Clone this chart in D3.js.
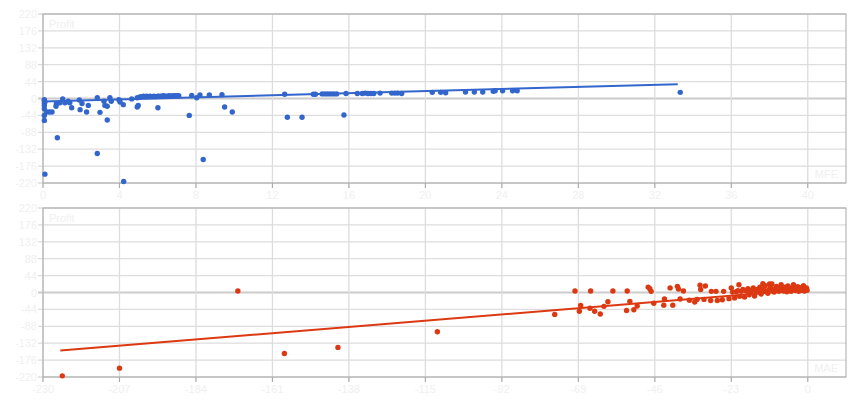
<!DOCTYPE html>
<html>
<head>
<meta charset="utf-8">
<script src="https://cdnjs.cloudflare.com/ajax/libs/d3/7.8.5/d3.min.js"></script>
<style>
  body { margin: 0; background: #fff; }
  svg { display: block; }
</style>
</head>
<body>
<div id="chart"></div>
<script>
// -----------------------------------------
// DATA
// -----------------------------------------
// top panel: MFE vs Profit
var mfe = [0.1,0.07,0.07,0.19,0.07,0.07,0.07,0.07,0.07,0.1,0.33,0.47,0.68,0.7,0.75,0.89,1.03,1.15,1.32,1.4,1.5,1.9,1.94,2.04,2.28,2.37,2.84,2.84,2.98,3.24,3.36,3.36,3.19,3.5,3.57,3.97,4.03,4.2,4.22,4.64,4.93,4.98,4.93,
  5.07,5.15,5.25,5.33,5.42,5.5,5.6,5.7,5.8,5.9,6.0,6.1,6.2,6.3,6.4,6.5,6.6,6.7,6.8,6.9,7.0,7.1,6.01,
  7.65,7.78,8.04,8.21,8.38,8.7,9.36,9.5,9.9,12.64,12.78,13.55,14.14,14.25,14.6,14.75,14.9,15.05,15.2,15.36,15.74,15.85,16.44,16.7,16.85,17.0,17.15,17.3,17.63,18.24,18.4,18.55,18.76,20.36,20.8,21.06,22.1,22.56,23.0,23.55,23.65,24.04,24.56,24.8,33.33];
var mfeProfit = [-197,-57,-44,-35,-27,-18,-12,-6,-3,-9,-35,-35,-20,-14,-102,-11,-1,-11,-7,-11,-24,-4,-29,-13,-35,-18,2,-143,-36,-18,-20,-56,-7,2,-7,-3,-9,-16,-216,-1,2,-18,-22,
  4,5,6,5,6,5,6,5,6,5,6,6,6,7,6,6,7,6,7,7,7,7,-24,
  -44,8,2,9,-159,9,10,-22,-35,11,-49,-49,11,11,12,12,12,12,12,12,-43,13,13,13,14,13,13,13,14,14,14,14,13,16,16,15,17,17,17,19,20,20,20,20,16];
var mfeTrendX = [0, 33.2];
var mfeTrendY = [-7.5, 37];

// bottom panel: MAE vs Profit
var mae = [-224.2,-207,-171.4,-157.4,-141.3,-111.4,-76.1,
  -70,-68.7,-68.3,-65.3,-65.5,-64.1,-62.4,-61.3,-60.1,-58.6,-54.5,-54.3,-53.5,-52.3,-51.3,-48,-47.5,-47.1,-46.3,-43.3,-43.1,-40.6,-41.4,-39.2,-38.9,-38.4,-37.4,-35.6,-34,-33.3,-32.4,-32.2,-31.2,-30.8,-29.2,-29,-27.2,-27.6,-25.7,-25.3,-23.7,-23,-22.6,
  -22,-21.5,-21,-20.5,-20,-19.5,-19,-18.5,-18,-17.6,-17.2,-16.8,-16.4,-16,-15.6,-15.2,-14.8,-14.4,-14,-13.6,-13.2,-12.8,-12.4,-12,-11.6,-11.2,-10.8,-10.5,-10.1,-9.8,-9.4,-9.1,-8.7,-8.4,-8,-7.7,-7.3,-7,-6.7,-6.3,-6,-5.7,-5.3,-5,-4.7,-4.3,-4,-3.7,-3.3,-3,-2.7,-2.3,-2,-1.7,-1.3,-1,-0.7,-0.4,-0.2,
  -13.5,-11.5,-20.7];
var maeProfit = [-217,-197,4,-159,-143,-102,-57,
  4,-49,-34,4,-41,-49,-56,-36,-24,4,-47,4,-23,-45,-35,14,10,3,-28,-33,-17,-33,12,16,9,-17,4,-20,-25,-18,19,8,-18,17,-21,3,-21,3,-19,3,-16,12,1,
  -14,2,5,-10,3,8,-12,4,10,-6,2,6,12,-9,4,8,1,14,-4,6,10,18,3,-2,8,13,22,5,1,10,16,6,3,12,20,8,4,14,9,2,17,11,6,3,13,20,8,5,11,15,3,9,6,13,18,4,9,12,6,
  23,22,20];
var maeTrendX = [-224.8, 0];
var maeTrendY = [-151, 8];

var yTicks = [220,176,132,88,44,0,-44,-88,-132,-176,-220];
var mfeTicks = [0,4,8,12,16,20,24,28,32,36,40];
var maeTicks = [-230,-207,-184,-161,-138,-115,-92,-69,-46,-23,0];

// -----------------------------------------
// FORMAT
// -----------------------------------------
var W = 860, H = 400;
var left = 43, right = 846;
var fontF = "Liberation Sans, Arial, sans-serif";
var textC = "#f0f0f0";
var gridC = "#dddddd";
var frameC = "#a8a8a8";

var svg = d3.select("#chart").append("svg")
  .attr("width", W)
  .attr("height", H);

function panel(opt){
  var x = d3.scaleLinear().domain(opt.xDomain).range([left, right]);
  var y = d3.scaleLinear().domain([-220, 220]).range([opt.bottom, opt.top]);
  var g = svg.append("g");

  // horizontal grid
  g.selectAll(".hg").data(yTicks).enter().append("line")
    .attr("x1", left - 5).attr("x2", right)
    .attr("y1", d => y(d)).attr("y2", d => y(d))
    .style("stroke", d => d == 0 ? "#cccccc" : gridC)
    .style("stroke-width", d => d == 0 ? 2 : 1.3);

  // vertical grid
  g.selectAll(".vg").data(opt.xTicks).enter().append("line")
    .attr("x1", d => x(d)).attr("x2", d => x(d))
    .attr("y1", opt.top).attr("y2", opt.bottom + 5)
    .style("stroke", gridC)
    .style("stroke-width", 1.3);

  // frame
  g.append("rect")
    .attr("x", left).attr("y", opt.top)
    .attr("width", right - left).attr("height", opt.bottom - opt.top)
    .style("fill", "none")
    .style("stroke", frameC)
    .style("stroke-width", 1);

  // bottom tick marks
  g.selectAll(".tk").data(opt.xTicks).enter().append("line")
    .attr("x1", d => x(d)).attr("x2", d => x(d))
    .attr("y1", opt.bottom).attr("y2", opt.bottom + 5)
    .style("stroke", frameC);

  // labels
  g.selectAll(".yl").data(yTicks).enter().append("text")
    .attr("x", 37).attr("y", d => y(d) + 4)
    .attr("text-anchor", "end")
    .text(d => d)
    .style("font-family", fontF).style("font-size", "11px").style("fill", textC);

  g.selectAll(".xl").data(opt.xTicks).enter().append("text")
    .attr("x", d => x(d)).attr("y", opt.bottom + 16)
    .attr("text-anchor", "middle")
    .text(d => d)
    .style("font-family", fontF).style("font-size", "11px").style("fill", textC);

  g.append("text")
    .attr("x", 49).attr("y", opt.top + 14)
    .text("Profit")
    .style("font-family", fontF).style("font-size", "11px").style("fill", textC);

  g.append("text")
    .attr("x", right - 8).attr("y", opt.bottom - 5)
    .attr("text-anchor", "end")
    .text(opt.xName)
    .style("font-family", fontF).style("font-size", "11px").style("fill", textC);

  // points
  g.selectAll(".pt").data(opt.xs).enter().append("circle")
    .attr("cx", (d, i) => x(d))
    .attr("cy", (d, i) => y(opt.ys[i]))
    .attr("r", 2.7)
    .style("fill", opt.color);

  // trendline
  var line = d3.line().x(d => x(d[0])).y(d => y(d[1]));
  g.append("path")
    .datum(d3.zip(opt.trendX, opt.trendY))
    .attr("d", line)
    .style("fill", "none")
    .style("stroke", opt.color)
    .style("stroke-width", 2);
}

panel({top: 14, bottom: 183, xDomain: [0, 42], xTicks: mfeTicks, xName: "MFE",
  xs: mfe, ys: mfeProfit, trendX: mfeTrendX, trendY: mfeTrendY, color: "#3366cc"});
panel({top: 208, bottom: 377, xDomain: [-230, 11.5], xTicks: maeTicks, xName: "MAE",
  xs: mae, ys: maeProfit, trendX: maeTrendX, trendY: maeTrendY, color: "#dc3912"});
</script>
</body>
</html>
